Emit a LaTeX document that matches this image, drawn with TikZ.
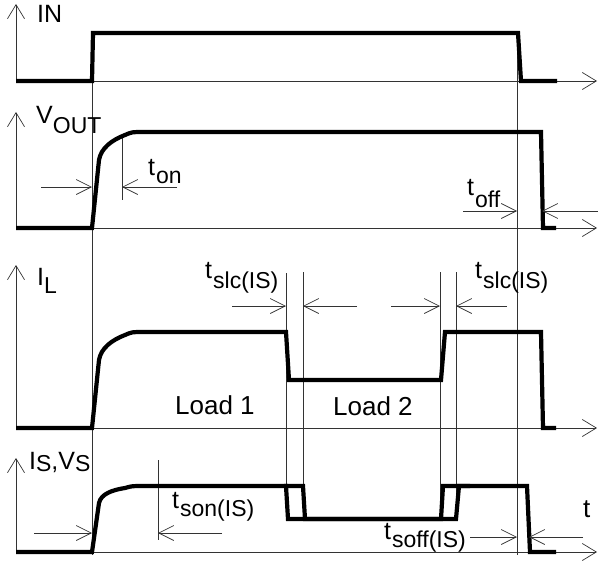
\documentclass[tikz,border=0pt]{standalone}
\usepackage{fontspec}
\setmainfont{Liberation Sans}
\usetikzlibrary{arrows.meta}
\newcommand\subfnt{\fontsize{23}{23}\selectfont}
\begin{document}
\begin{tikzpicture}[x=1pt,y=-1pt,
  sig/.style={line width=4.2pt, line join=miter, line cap=butt},
  thinln/.style={line width=0.7pt, draw=black!80},
  axis/.style={thinln, -{Straight Barb[length=14pt,width=17pt,line width=0.7pt]}},
  tarr/.style={thinln, -{Straight Barb[length=15pt,width=15pt,line width=0.7pt]}},
  mainlbl/.style={inner sep=0, anchor=base west, font=\fontsize{25}{25}\selectfont},
  sublbl/.style={inner sep=0, anchor=base west, font=\subfnt},
  loadlbl/.style={inner sep=0, anchor=base west, font=\fontsize{26}{26}\selectfont}]
\useasboundingbox (0,0) rectangle (598,562);

% ---------- axes ----------
\coordinate (o1) at (16,81);  \coordinate (o2) at (16,228);
\coordinate (o3) at (16,428); \coordinate (o4) at (16,552);
\draw[axis] (o1) -- (16,4);   \draw[axis] (o1) -- (597,81);
\draw[axis] (o2) -- (16,112); \draw[axis] (o2) -- (597,228);
\draw[axis] (o3) -- (16,265); \draw[axis] (o3) -- (597,428);
\draw[axis] (o4) -- (16,458); \draw[axis] (o4) -- (597,552);

% ---------- vertical guide lines ----------
\draw[thinln] (92,33) -- (92,555);
\draw[thinln] (517,33) -- (517,555);
\coordinate (ton1) at (122,135); \coordinate (ton2) at (122,200);
\draw[thinln] (ton1) -- (ton2);
\coordinate (tson1) at (158,460); \coordinate (tson2) at (158,540);
\draw[thinln] (tson1) -- (tson2);
\coordinate (a1) at (286,273); \coordinate (a2) at (286,519);
\coordinate (b1) at (303,272); \coordinate (b2) at (303,519);
\coordinate (c1) at (440,272); \coordinate (c2) at (440,519);
\coordinate (d1) at (456,272); \coordinate (d2) at (456,519);
\draw[thinln] (a1) -- (a2);
\draw[thinln] (b1) -- (b2);
\draw[thinln] (c1) -- (c2);
\draw[thinln] (d1) -- (d2);

% ---------- signals ----------
% IN
\draw[sig] (16,81) -- (92,81) -- (93,33) -- (518,33) -- (521,81) -- (557,81);
% VOUT
\draw[sig] (16,228) -- (92,228) -- (99,160)
  .. controls (101,148) and (112,140) .. (125,135)
  .. controls (132,132) .. (143,132) -- (541,132) -- (543,228) -- (556,228);
% IL
\draw[sig] (16,428) -- (92,428) -- (99,360)
  .. controls (101,348) and (112,340) .. (125,335)
  .. controls (132,332) .. (143,332) -- (286,332) -- (289,380)
  -- (441,380) -- (445,332) -- (541,332) -- (543,428) -- (556,428);
% IS
\draw[sig] (16,552) -- (92,552) -- (99,503)
  .. controls (101,494) and (112,490) .. (125,488)
  .. controls (132,486) .. (143,486) -- (286,486) -- (288,519)
  -- (441,519) -- (443,486) -- (527,486) -- (530,552) -- (556,552);
% VS
\draw[sig] (284,486) -- (303,486) -- (305,519) -- (456,519) -- (459,486) -- (470,486);

% ---------- timing arrows ----------
\draw[tarr] (41,187) -- (92,187);
\draw[tarr] (177,187) -- (122,187);
\draw[tarr] (463,211) -- (517,211);
\draw[tarr] (598,211) -- (542,211);
\draw[tarr] (232,306) -- (286,306);
\draw[tarr] (357,306) -- (303,306);
\draw[tarr] (391,306) -- (440,306);
\draw[tarr] (507,306) -- (456,306);
\draw[tarr] (34,533) -- (92,533);
\draw[tarr] (222,533) -- (158,533);
\draw[tarr] (470,537) -- (517,537);
\draw[tarr] (583,537) -- (529,537);

% ---------- labels ----------
\node[mainlbl] (lin) at (37,22) {IN};
\node[mainlbl] (lv) at (36,123) {V\raisebox{-10pt}{\subfnt OUT}};
\node[mainlbl] (li) at (37,285) {I\raisebox{-8pt}{\subfnt L}};
\node[mainlbl] (lis) at (29,469) {I\raisebox{-2pt}{\subfnt S},V\raisebox{-2pt}{\subfnt S}};

\node[mainlbl] (lton) at (148,175) {t\kern1pt\raisebox{-8pt}{\subfnt on}};
\node[mainlbl] (ltoff) at (467,195) {t\kern1pt\raisebox{-12pt}{\subfnt off}};
\node[mainlbl] (lslc1) at (205,278) {t\kern1pt\raisebox{-10pt}{\subfnt slc(IS)}};
\node[mainlbl] (lslc2) at (475,278) {t\kern1pt\raisebox{-10pt}{\subfnt slc(IS)}};
\node[mainlbl] (lson) at (172,508) {t\kern1pt\raisebox{-8pt}{\subfnt son(IS)}};
\node[mainlbl] (lsoff) at (384,539) {t\kern1pt\raisebox{-8pt}{\subfnt soff(IS)}};

\node[loadlbl] (load1) at (175,414) {Load 1};
\node[loadlbl] (load2) at (333,415) {Load 2};
\node[loadlbl] (lt) at (583,517) {t};
\end{tikzpicture}
\end{document}
